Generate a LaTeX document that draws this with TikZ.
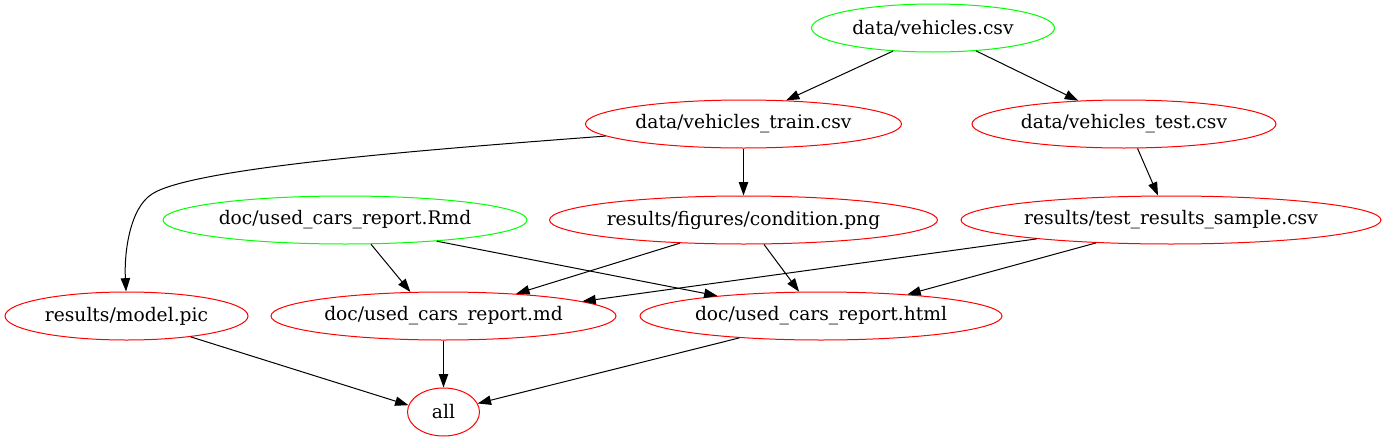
\documentclass[tikz,border=0pt]{standalone}
\usepackage{fontspec}
\setmainfont{DejaVu Serif}
\usetikzlibrary{shapes.geometric,arrows.meta}
\definecolor{gvgreen}{RGB}{0,255,0}
\definecolor{gvred}{RGB}{255,0,0}
\begin{document}
\begin{tikzpicture}[x=0.75pt,y=-0.75pt,
  every node/.style={font=\fontsize{14}{16}\selectfont},
  gvnode/.style={ellipse,draw,line width=0.75pt,inner sep=0pt,minimum height=36pt},
  src/.style={gvnode,draw=gvgreen},
  tgt/.style={gvnode,draw=gvred},
  arr/.style={line width=0.75pt,-{Triangle[length=10pt,width=7pt]}}]
\useasboundingbox (0,0) rectangle (1386,443);
% nodes
\node[src,minimum width=182.25pt] (vcsv) at (933,28) {data/vehicles.csv};
\node[tgt,minimum width=237pt] (train) at (743.5,124) {data/vehicles\_train.csv};
\node[tgt,minimum width=228pt] (test) at (1124,124) {data/vehicles\_test.csv};
\node[src,minimum width=273pt] (rmd) at (345,220) {doc/used\_cars\_report.Rmd};
\node[tgt,minimum width=291pt] (cond) at (743.5,220) {results/figures/condition.png};
\node[tgt,minimum width=315pt] (sample) at (1171,220) {results/test\_results\_sample.csv};
\node[tgt,minimum width=182.25pt] (model) at (126.5,316) {results/model.pic};
\node[tgt,minimum width=258.75pt] (md) at (443.5,316) {doc/used\_cars\_report.md};
\node[tgt,minimum width=271.5pt] (html) at (821,316) {doc/used\_cars\_report.html};
\node[tgt,minimum width=54pt] (all) at (443.5,412) {all};
\coordinate (bend) at (152,194);
% edges
\draw[arr] (vcsv.-150.8) -- (train.29.2);
\draw[arr] (vcsv.-28.6) -- (test.153.4);
\draw[arr] (train.-175) .. controls (420,150) and (192,168) .. (bend)
  .. controls (130,208) and (124,252) .. (model.91);
\draw[arr] (train.south) -- (cond.north);
\draw[arr] (test.-61.6) -- (sample.118.4);
\draw[arr] (rmd.-43.8) -- (md.144.4);
\draw[arr] (rmd.-13) -- (html.169.3);
\draw[arr] (cond.-160.6) -- (md.17.8);
\draw[arr] (cond.-50.2) -- (html.132.4);
\draw[arr] (sample.-172.5) -- (md.6.8);
\draw[arr] (sample.-163.5) -- (html.14.9);
\draw[arr] (model.-18.6) -- (all.169.6);
\draw[arr] (md.south) -- (all.north);
\draw[arr] (html.-165.2) -- (all.14.4);
\end{tikzpicture}
\end{document}
